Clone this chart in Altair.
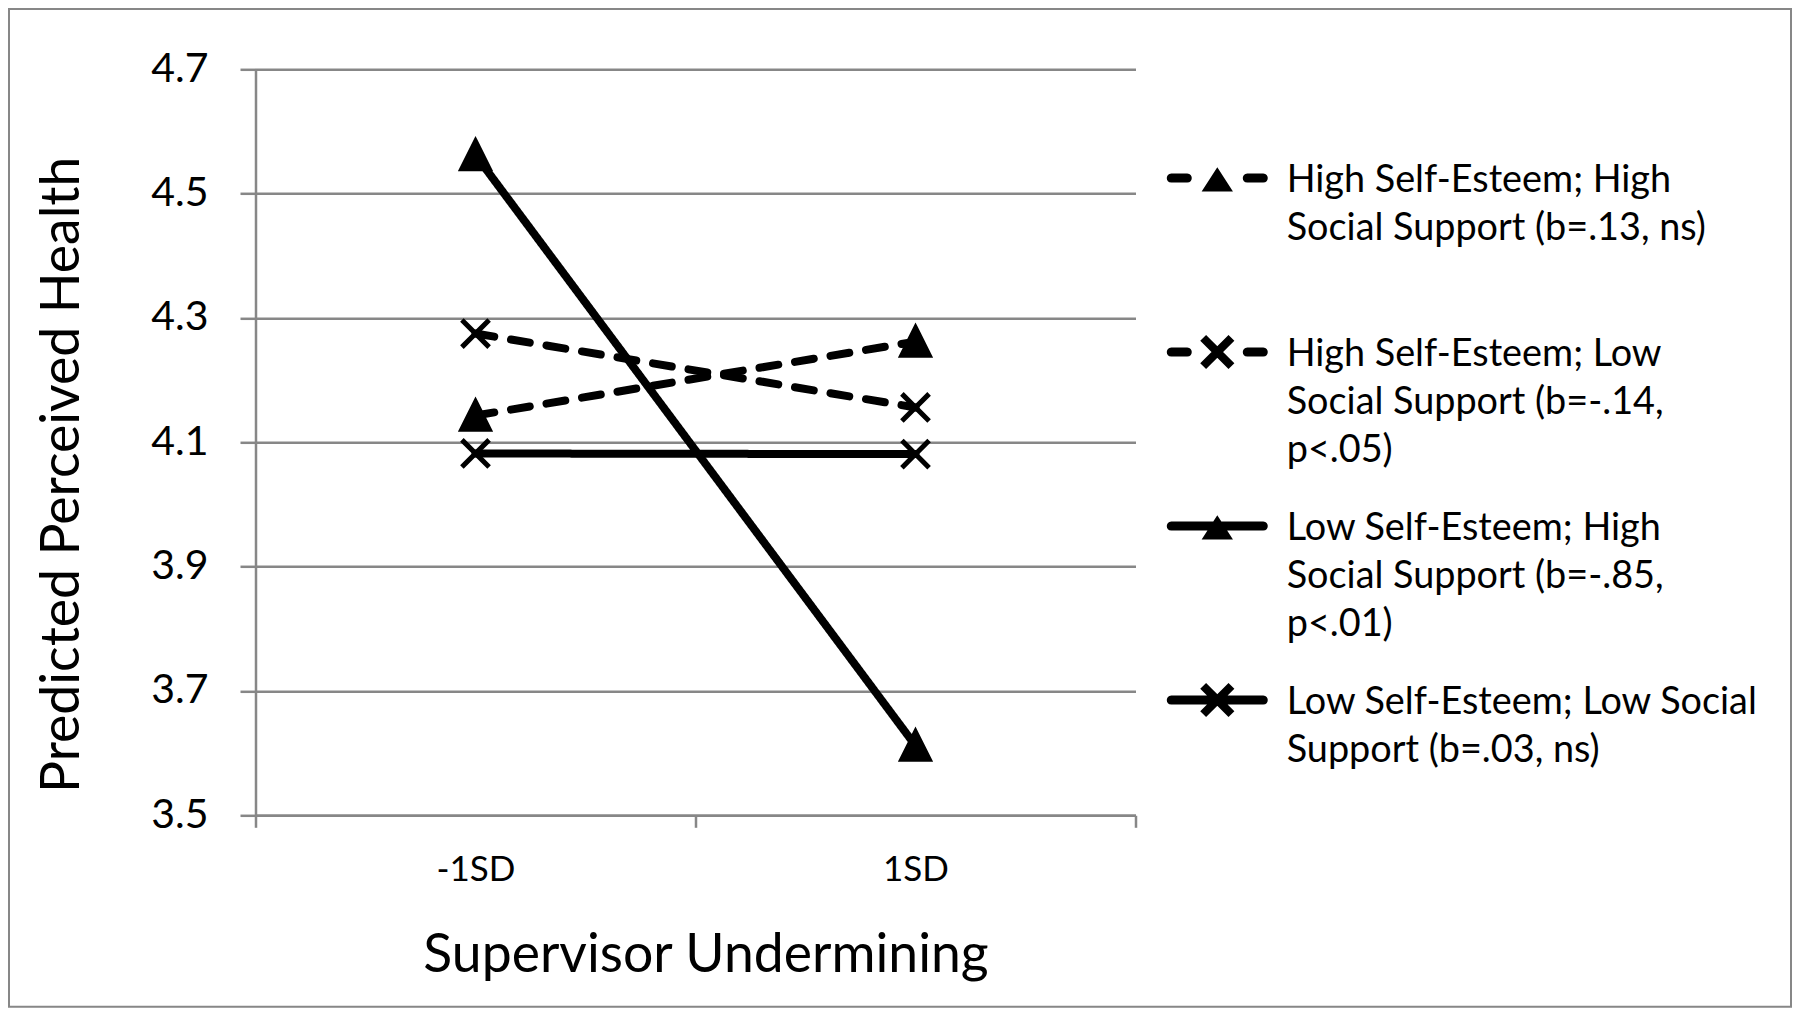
import altair as alt
import pandas as pd

# ---------------- data ----------------
categories = ["-1SD", "1SD"]
series_labels = [
    "High Self-Esteem; High|Social Support (b=.13, ns)",
    "High Self-Esteem; Low|Social Support (b=-.14,|p<.05)",
    "Low Self-Esteem; High|Social Support (b=-.85,|p<.01)",
    "Low Self-Esteem; Low Social|Support (b=.03, ns)",
]
self_esteem = ["High", "High", "Low", "Low"]
social_support = ["High", "Low", "High", "Low"]
hse_hss = [4.143, 4.262]
hse_lss = [4.275, 4.156]
lse_hss = [4.562, 3.612]
lse_lss = [4.082, 4.081]
y_ticks = [3.5, 3.7, 3.9, 4.1, 4.3, 4.5, 4.7]

series_values = [hse_hss, hse_lss, lse_hss, lse_lss]
rows = []
for lab, se, ss, vals in zip(series_labels, self_esteem, social_support, series_values):
    for c, v in zip(categories, vals):
        rows.append({"x": c, "y": v, "series": lab, "se": se, "ss": ss})
df = pd.DataFrame(rows)

# ---------------- styling ----------------
GRAY = "#878787"
FONT = "Lato"
W, H = 880, 746
PAD = {"left": 247.5, "top": 61.3, "right": 656.5, "bottom": 192.7}

# plot markers
tri = "M0,-1L1,1L-1,1Z"
cross = "M-1,-1L1,1M-1,1L1,-1"

# legend symbols: designed in a 50.5px unit, rescaled to the symbol's own unit
SYM_W = 79.0                 # legend symbol box width (px)
K = 50.5 / (SYM_W / 2)       # design unit -> symbol unit
DY = 15.66 / (SYM_W / 2)     # vertical shift of the symbol (symbol units)


def f(v):
    return f"{v:.4f}"


def pt(x, y):
    return f"{f(x * K)},{f(y * K + DY)}"


def capsule(xa, xb, r):
    k = 1.333 * r
    return (
        f"M{pt(xa, -r)}H{f(xb * K)}"
        f"C{pt(xb + k, -r)} {pt(xb + k, r)} {pt(xb, r)}"
        f"H{f(xa * K)}"
        f"C{pt(xa - k, r)} {pt(xa - k, -r)} {pt(xa, -r)}Z"
    )


def leg_triangle():
    return f"M{pt(0, -0.21)}L{pt(0.31, 0.27)}L{pt(-0.31, 0.27)}Z"


def leg_cross():
    a, d = 0.28, 0.058
    p1 = [(-a + d, -a - d), (a + d, a - d), (a - d, a + d), (-a - d, -a + d)]
    p2 = [(-a - d, a - d), (a - d, -a - d), (a + d, -a + d), (-a + d, a + d)]
    out = ""
    for poly in (p1, p2):
        out += "M" + "L".join(pt(x, y) for x, y in poly) + "Z"
    return out


R = 0.09
dashed = capsule(-0.91, -0.595, R) + capsule(0.595, 0.91, R)
solid = capsule(-0.91, 0.91, R)
legend_paths = [
    dashed + leg_triangle(),
    dashed + leg_cross(),
    solid + leg_triangle(),
    solid + leg_cross(),
]

x_enc = alt.X(
    "x:N",
    sort=categories,
    scale=alt.Scale(type="band", domain=categories, paddingInner=0, paddingOuter=0),
    axis=alt.Axis(
        title="Supervisor Undermining",
        tickBand="extent",
        labelAngle=0,
        tickSize=12,
        labelPadding=53,
        labelBaseline="alphabetic",
        labelFontSize=35,
        titleFontSize=53.5,
        titleFontWeight="normal",
        titleBaseline="alphabetic",
        titleX=450,
        titleY=155.7,
        titleAnchor="middle",
        titleAlign="center",
    ),
)
y_enc = alt.Y(
    "y:Q",
    scale=alt.Scale(domain=[3.5, 4.7], nice=False, zero=False),
    axis=alt.Axis(
        title="Predicted Perceived Health",
        values=y_ticks,
        format=".1f",
        tickSize=15.5,
        labelPadding=32,
        labelFontSize=41,
        grid=True,
        titleFontSize=53.5,
        titleFontWeight="normal",
        titleBaseline="alphabetic",
        titleAlign="center",
        titleAngle=270,
        titleX=-177.5,
        titleY=405,
    ),
)

base = alt.Chart(df)

lines = base.mark_line(color="black", strokeWidth=8, strokeCap="round").encode(
    x=x_enc,
    y=y_enc,
    detail="series:N",
    strokeDash=alt.StrokeDash(
        "se:N",
        scale=alt.Scale(domain=["High", "Low"], range=[[19, 17], [1, 0]]),
        legend=None,
    ),
)

points = base.mark_point(
    filled=True, color="black", fill="black", stroke="black", strokeWidth=5, size=740, opacity=1
).encode(
    x=x_enc,
    y=y_enc,
    shape=alt.Shape(
        "ss:N",
        scale=alt.Scale(domain=["High", "Low"], range=[tri, cross]),
        legend=None,
    ),
)

legend_layer = base.mark_point(
    filled=True, color="black", fill="black", strokeWidth=0, size=SYM_W ** 2, opacity=0
).encode(
    x=x_enc,
    y=y_enc,
    shape=alt.Shape(
        "series:N",
        sort=series_labels,
        scale=alt.Scale(domain=series_labels, range=legend_paths),
        legend=alt.Legend(
            title=None,
            orient="none",
            legendX=922.3,
            legendY=53.5,
            padding=0,
            labelExpr="split(datum.label, '|')",
            labelFont=FONT,
            labelFontSize=37.8,
            labelColor="black",
            labelLimit=0,
            labelOffset=29.9,
            labelBaseline="top",
            symbolSize=SYM_W ** 2,
            symbolStrokeWidth=0,
            symbolFillColor="black",
            symbolOpacity=1,
            gridAlign="all",
            rowPadding=0,
        ),
    ),
)

frame_df = pd.DataFrame({"k": [0]})
frame = alt.Chart(frame_df).mark_rect(fill=None, stroke=GRAY, strokeWidth=2).encode(
    x=alt.value(-246.5), x2=alt.value(1535.5), y=alt.value(-60.3), y2=alt.value(937.5)
)

chart = (
    alt.layer(frame, lines, points, legend_layer)
    .resolve_scale(shape="independent")
    .properties(width=W, height=H, autosize=alt.AutoSizeParams(type="none"), padding=PAD)
    .configure(font=FONT, style={"guide-label": {"lineHeight": 48}})
    .configure_view(stroke=None)
    .configure_axis(
        domainColor=GRAY,
        domainWidth=2.5,
        tickColor=GRAY,
        tickWidth=2.5,
        gridColor=GRAY,
        gridWidth=2.5,
        labelColor="black",
        titleColor="black",
        labelFont=FONT,
        titleFont=FONT,
    )
    .configure_axisX(grid=False)
)

chart.save("out.html", embed_options={"renderer": "svg", "actions": False})
